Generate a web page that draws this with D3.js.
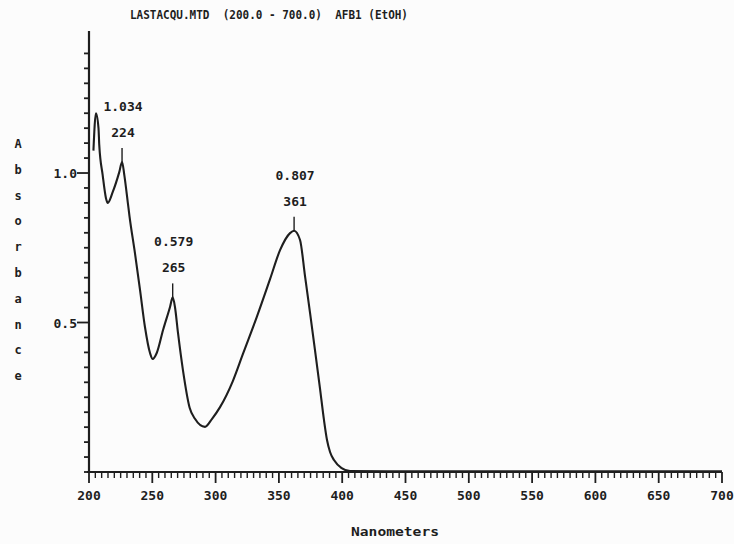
<!DOCTYPE html>
<html>
<head>
<meta charset="utf-8">
<script src="https://cdn.jsdelivr.net/npm/d3@7"></script>
<style>
  body { margin: 0; background: #fcfcfc; }
  svg { display: block; }
  text { font-family: "DejaVu Sans Mono", monospace; font-weight: bold; fill: #1e1e1e; }
</style>
</head>
<body>
<svg id="spectrum_svg"></svg>
<script>
// spectrum (wavelength nm, absorbance)
const wavelengths = [203.5, 205.5, 207.5, 208.1, 210.8, 213.4, 214.8, 218.7, 223.9, 226.1,
  227.9, 230.6, 232.0, 236.3, 240.3, 244.2, 248.2, 250.3, 253.5, 258.5, 264.0, 266.1, 267.9,
  270.3, 274.2, 279.5, 283.7, 291.6, 297.2, 303.5, 313.7, 321.6, 332.5, 343.0, 350.9, 358.8,
  362.0, 366.7, 370.6, 374.6, 378.5, 382.5, 385.6, 388.0, 390.4, 393.5, 399.6, 406.2,
  450, 500, 550, 600, 650, 700]
const absorbance = [1.075, 1.200, 1.150, 1.094, 0.993, 0.916, 0.900, 0.936, 1.003, 1.037,
  0.993, 0.903, 0.855, 0.732, 0.609, 0.485, 0.398, 0.378, 0.398, 0.475, 0.552, 0.584, 0.552,
  0.465, 0.341, 0.215, 0.178, 0.151, 0.178, 0.217, 0.305, 0.395, 0.518, 0.645, 0.742, 0.799,
  0.807, 0.776, 0.656, 0.532, 0.408, 0.278, 0.174, 0.107, 0.067, 0.040, 0.013, 0.003,
  0.002, 0.002, 0.002, 0.002, 0.002, 0.002]

// labelled peaks
const peakNm = [224, 265, 361]
const peakAbs = ["1.034", "0.579", "0.807"]

const xTickValues = [200, 250, 300, 350, 400, 450, 500, 550, 600, 650, 700]
const yTickValues = [0.5, 1.0]
const titleText = "LASTACQU.MTD  (200.0 - 700.0)  AFB1 (EtOH)"
const xTitle = "Nanometers"
const yTitle = "Absorbance"

const W = 734, H = 544
const svg = d3.select("#spectrum_svg").attr("width", W).attr("height", H)

const data = wavelengths.map((w, i) => ({ nm: w, a: absorbance[i] }))

const xScale = d3.scaleLinear().domain([200, 700]).range([89, 722])
const yScale = d3.scaleLinear().domain([0, 1.475]).range([472, 31])

const ink = "#1e1e1e"

// title
svg.append("text")
    .attr("x", 269).attr("y", 19)
    .attr("text-anchor", "middle")
    .attr("font-size", 13)
    .attr("textLength", 278).attr("lengthAdjust", "spacingAndGlyphs")
    .style("white-space", "pre")
    .text(titleText)

// x axis: minor ticks every 5 nm, major every 50
const xMinor = d3.range(200, 701, 5)
const xAxisG = svg.append("g")
xAxisG.append("line")
    .attr("x1", xScale(200) - 2).attr("x2", xScale(700))
    .attr("y1", yScale(0)).attr("y2", yScale(0))
    .attr("stroke", ink).attr("stroke-width", 2.2)
xAxisG.selectAll(".xt")
    .data(xMinor)
    .enter().append("line")
    .attr("x1", d => xScale(d)).attr("x2", d => xScale(d))
    .attr("y1", yScale(0))
    .attr("y2", d => yScale(0) + (d % 50 === 0 ? 11 : 6))
    .attr("stroke", ink).attr("stroke-width", d => d % 50 === 0 ? 1.8 : 1.4)
xAxisG.selectAll(".xl")
    .data(xTickValues)
    .enter().append("text")
    .attr("x", d => xScale(d))
    .attr("y", 500)
    .attr("text-anchor", "middle")
    .attr("font-size", 13)
    .text(d => d)

svg.append("text")
    .attr("x", 395).attr("y", 536)
    .attr("text-anchor", "middle")
    .attr("font-size", 13)
    .attr("textLength", 88).attr("lengthAdjust", "spacingAndGlyphs")
    .text(xTitle)

// y axis: minor ticks every 0.05
const yMinor = d3.range(0, 29).map(i => +(i * 0.05).toFixed(2))
const yAxisG = svg.append("g")
yAxisG.append("line")
    .attr("x1", xScale(200)).attr("x2", xScale(200))
    .attr("y1", yScale(0)).attr("y2", yScale(1.475))
    .attr("stroke", ink).attr("stroke-width", 2.2)
yAxisG.selectAll(".yt")
    .data(yMinor)
    .enter().append("line")
    .attr("x1", xScale(200))
    .attr("x2", d => xScale(200) - (yTickValues.includes(d) ? 12 : 5))
    .attr("y1", d => yScale(d)).attr("y2", d => yScale(d))
    .attr("stroke", ink).attr("stroke-width", 1.8)
yAxisG.selectAll(".yl")
    .data(yTickValues)
    .enter().append("text")
    .attr("x", xScale(200) - 12)
    .attr("y", d => yScale(d) + 5)
    .attr("text-anchor", "end")
    .attr("font-size", 13)
    .text(d => d.toFixed(1))

// stacked y title
svg.append("g")
    .selectAll("text")
    .data(yTitle.split(""))
    .enter().append("text")
    .attr("x", 18)
    .attr("y", (d, i) => 148 + i * 25.8)
    .attr("text-anchor", "middle")
    .attr("font-size", 12)
    .text(d => d)

// spectrum
const line = d3.line()
    .x(d => xScale(d.nm))
    .y(d => yScale(d.a))
    .curve(d3.curveMonotoneX)

svg.append("path")
    .datum(data)
    .attr("d", line)
    .attr("fill", "none")
    .attr("stroke", ink)
    .attr("stroke-width", 2.1)
    .attr("stroke-linejoin", "round")

// peak markers: sit on the curve's local max near each labelled wavelength
const peaks = peakNm.map((nm, i) => {
    const near = data.filter(d => Math.abs(d.nm - nm) <= 5)
    const top = near.reduce((m, d) => d.a > m.a ? d : m, near[0])
    return { nm, label: peakAbs[i], px: xScale(top.nm), py: yScale(top.a) }
})

const peakG = svg.append("g")
peakG.selectAll("line")
    .data(peaks)
    .enter().append("line")
    .attr("x1", d => d.px).attr("x2", d => d.px)
    .attr("y1", d => d.py).attr("y2", d => d.py - 14)
    .attr("stroke", ink).attr("stroke-width", 1.4)
peakG.selectAll(".pn")
    .data(peaks)
    .enter().append("text")
    .attr("x", d => d.px + 1)
    .attr("y", d => d.py - 25)
    .attr("text-anchor", "middle")
    .attr("font-size", 13)
    .text(d => d.nm)
peakG.selectAll(".pa")
    .data(peaks)
    .enter().append("text")
    .attr("x", d => d.px + 1)
    .attr("y", d => d.py - 51)
    .attr("text-anchor", "middle")
    .attr("font-size", 13)
    .text(d => d.label)
</script>
</body>
</html>
